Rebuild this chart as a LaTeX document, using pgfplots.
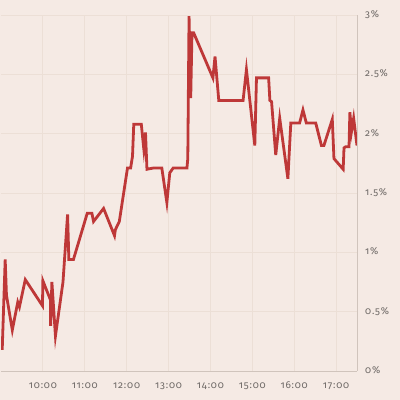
\documentclass[border=0pt]{standalone}
\usepackage{pgfplots}
\pgfplotsset{compat=1.18}
\usepackage{fontspec}
\setmainfont{Fira Sans}[Numbers=OldStyle, LetterSpace=8]
\definecolor{bg}{RGB}{245,234,228}
\definecolor{gridc}{RGB}{236,223,214}
\definecolor{axc}{RGB}{208,196,188}
\definecolor{linec}{RGB}{190,56,56}
\definecolor{labc}{RGB}{110,105,102}
\begin{document}
\begin{tikzpicture}
\fill[bg] (0,0) rectangle (400bp,400bp);
\begin{axis}[at={(1bp,29bp)}, anchor=south west, scale only axis,
 width=356bp, height=356bp,
 xmin=9, xmax=17.5, ymin=0, ymax=3,
 axis x line*=bottom, axis y line*=right,
 axis line style={axc, line width=0.8bp, -},
 xtick={10,11,12,13,14,15,16,17},
 xticklabels={10:00,11:00,12:00,13:00,14:00,15:00,16:00,17:00},
 ytick={0,0.5,1,1.5,2,2.5,3},
 yticklabels={0\%,0.5\%,1\%,1.5\%,2\%,2.5\%,3\%},
 major tick length=0pt,
 grid=major, major grid style={gridc, line width=0.8bp},
 tick label style={font=\fontsize{10}{11}\selectfont, text=labc},
 yticklabel style={anchor=mid west, inner sep=0pt, xshift=8bp},
 xticklabel style={anchor=base, inner sep=0pt, yshift=-18bp},
]
\addplot[linec, line width=2.8bp, no markers] coordinates {
(9.00,0.19) (9.03,0.19) (9.10,0.94) (9.13,0.64) (9.27,0.345) (9.40,0.58)
(9.44,0.54) (9.58,0.77) (9.99,0.55) (10.00,0.76) (10.18,0.60) (10.185,0.38)
(10.215,0.75) (10.30,0.295) (10.48,0.75) (10.59,1.32) (10.62,0.94) (10.73,0.94)
(11.06,1.33) (11.17,1.33) (11.21,1.26) (11.45,1.37) (11.71,1.14) (11.73,1.19)
(11.825,1.26) (12.02,1.71) (12.095,1.71) (12.14,1.81) (12.17,2.08) (12.35,2.08)
(12.41,1.87) (12.45,2.01) (12.485,1.70) (12.63,1.71) (12.84,1.71) (12.96,1.42)
(13.03,1.67) (13.11,1.71) (13.44,1.71) (13.46,1.79) (13.49,2.99) (13.53,2.30)
(13.56,2.85) (13.60,2.85) (14.06,2.47) (14.11,2.65) (14.20,2.28) (14.78,2.28)
(14.86,2.54) (15.06,1.90) (15.10,2.47) (15.39,2.47) (15.42,2.28) (15.46,2.27)
(15.56,1.82) (15.655,2.13) (15.85,1.62) (15.92,2.09) (16.13,2.09) (16.21,2.20)
(16.29,2.09) (16.515,2.09) (16.65,1.90) (16.71,1.90) (16.91,2.12) (16.95,1.79)
(17.17,1.70) (17.19,1.88) (17.23,1.89) (17.31,1.89) (17.33,2.18) (17.37,2.02)
(17.42,2.13) (17.50,1.90)
};
\end{axis}
\end{tikzpicture}
\end{document}
